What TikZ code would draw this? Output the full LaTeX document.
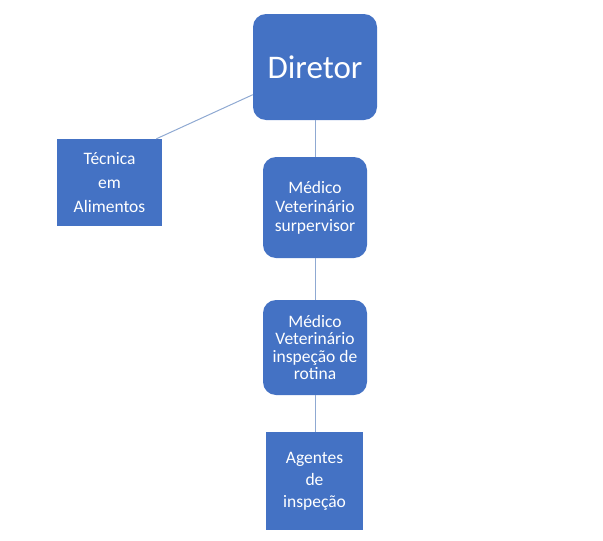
\documentclass[tikz,border=0pt]{standalone}
\usepackage{fontspec}
\setmainfont{Carlito}
\usepackage{tikz}
\definecolor{caixa}{HTML}{4472C4}
\definecolor{linha}{HTML}{8FA9D2}
\tikzset{
    bloco/.style={fill=caixa, text=white, align=center, inner sep=0pt, font=\fontsize{17.5}{19}\selectfont}, % estilo comum das caixas
    arred/.style={bloco, rounded corners=13pt}, % caixas de cantos arredondados
    ligacao/.style={draw=linha, line width=1pt} % linhas entre as caixas
}

\begin{document}
\begin{tikzpicture}[x=1pt, y=-1pt]
            \useasboundingbox (0,0) rectangle (603,541);

            \node[arred, minimum width=124pt, minimum height=106pt, font=\fontsize{33}{36}\selectfont] (dir) at (315,67) {Diretor};
            \node[bloco, minimum width=105pt, minimum height=87pt, font=\fontsize{17.5}{24}\selectfont] (tec) at (109.5,182.5) {Técnica\\em\\Alimentos};
            \node[arred, minimum width=104pt, minimum height=101pt] (sup) at (315,207.5) {Médico\\Veterinário\\surpervisor};
            \node[arred, minimum width=104pt, minimum height=95pt, font=\fontsize{17.5}{17.5}\selectfont] (rot) at (315,347.5) {Médico\\Veterinário\\inspeção de\\rotina};
            \node[bloco, minimum width=97pt, minimum height=98pt, font=\fontsize{17.5}{22}\selectfont] (agt) at (314.5,481) {Agentes\\de\\inspeção};

            \draw[ligacao] (dir.south) -- (sup.north);
            \draw[ligacao] (sup.south) -- (rot.north);
            \draw[ligacao] (rot.south) -- (rot.south |- agt.north);
            \draw[ligacao] (tec.43) -- (dir.204);
        \end{tikzpicture}
\end{document}
